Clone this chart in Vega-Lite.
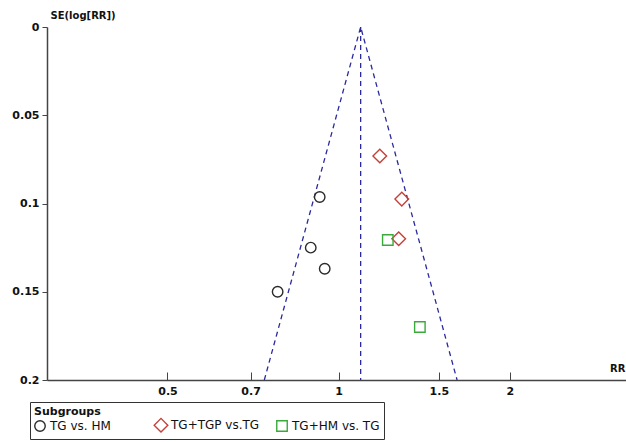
{
  "$schema": "https://vega.github.io/schema/vega-lite/v6.json",
  "width": 579,
  "height": 353,
  "autosize": {"type": "none"},
  "padding": {"left": 47, "top": 27, "right": 0, "bottom": 62},
  "background": "white",
  "config": {
    "view": {"stroke": null},
    "font": "DejaVu Sans",
    "axis": {"grid": false, "domainColor": "#444", "domainWidth": 1.5, "tickColor": "#444", "labelFont": "DejaVu Sans", "labelFontWeight": "bold", "labelFontSize": 11, "labelColor": "#111", "titleFont": "DejaVu Sans", "titleFontWeight": "bold", "titleFontSize": 10, "titleColor": "#111"}
  },
  "datasets": {
    "points": [
      {"rr": 0.926, "se": 0.0963, "group": "TG vs. HM"},
      {"rr": 0.893, "se": 0.125, "group": "TG vs. HM"},
      {"rr": 0.945, "se": 0.137, "group": "TG vs. HM"},
      {"rr": 0.781, "se": 0.150, "group": "TG vs. HM"},
      {"rr": 1.181, "se": 0.0731, "group": "TG+TGP vs.TG"},
      {"rr": 1.291, "se": 0.0975, "group": "TG+TGP vs.TG"},
      {"rr": 1.275, "se": 0.120, "group": "TG+TGP vs.TG"},
      {"rr": 1.220, "se": 0.1207, "group": "TG+HM vs. TG"},
      {"rr": 1.389, "se": 0.170, "group": "TG+HM vs. TG"}
    ],
    "funnel": [
      {"rr": 0.74, "se": 0.2, "ord": 1},
      {"rr": 1.093, "se": 0, "ord": 2},
      {"rr": 1.615, "se": 0.2, "ord": 3}
    ],
    "center": [
      {"rr": 1.093, "se0": 0, "se1": 0.2}
    ]
  },
  "layer": [
    {
      "data": {"name": "center"},
      "mark": {"type": "rule", "color": "#2a2a9e", "strokeDash": [5, 4], "strokeWidth": 1.3},
      "encoding": {
        "x": {"field": "rr", "type": "quantitative", "scale": {"type": "log", "domain": [0.307, 3.2], "nice": false}},
        "y": {"field": "se0", "type": "quantitative"},
        "y2": {"field": "se1"}
      }
    },
    {
      "data": {"name": "funnel"},
      "mark": {"type": "line", "color": "#2a2a9e", "strokeDash": [5, 4], "strokeWidth": 1.3},
      "encoding": {
        "x": {"field": "rr", "type": "quantitative"},
        "y": {"field": "se", "type": "quantitative"},
        "order": {"field": "ord"}
      }
    },
    {
      "data": {"name": "points"},
      "mark": {"type": "point", "filled": false, "strokeWidth": 1.4, "size": 110, "opacity": 1},
      "encoding": {
        "x": {"field": "rr", "type": "quantitative", "scale": {"type": "log", "domain": [0.307, 3.2], "nice": false},
          "axis": {"values": [0.5, 0.7, 1, 1.5, 2], "format": "~g", "title": "RR", "tickSize": -8, "labelPadding": 13, "titleAnchor": "start", "titleAlign": "right", "titleX": 578, "titleY": -12, "titleBaseline": "middle"}},
        "y": {"field": "se", "type": "quantitative", "scale": {"domain": [0, 0.2], "reverse": true, "nice": false},
          "axis": {"values": [0, 0.05, 0.1, 0.15, 0.2], "format": "~g", "title": "SE(log[RR])", "tickSize": 5, "labelPadding": 3, "titleAngle": 0, "titleAlign": "left", "titleX": 3, "titleY": -12, "titleBaseline": "middle"}},
        "shape": {"field": "group", "type": "nominal", "scale": {"domain": ["TG vs. HM", "TG+TGP vs.TG", "TG+HM vs. TG"], "range": ["circle", "M0,-1.3L1.3,0L0,1.3L-1.3,0Z", "square"]}},
        "color": {"field": "group", "type": "nominal", "scale": {"domain": ["TG vs. HM", "TG+TGP vs.TG", "TG+HM vs. TG"], "range": ["#2b2b2b", "#c4403a", "#3aaa3a"]},
          "legend": {"title": "Subgroups", "orient": "none", "direction": "horizontal", "legendX": -17, "legendY": 375, "strokeColor": "#333", "padding": 4, "gridAlign": "all", "columnPadding": 12, "titleFontWeight": "bold", "titleFontSize": 11, "titleColor": "#111", "titlePadding": 2, "labelFontSize": 12, "labelColor": "#111", "symbolSize": 110, "symbolStrokeWidth": 1.4, "labelOffset": 4, "titleFont": "DejaVu Sans", "labelFont": "DejaVu Sans"}}
      }
    }
  ]
}
